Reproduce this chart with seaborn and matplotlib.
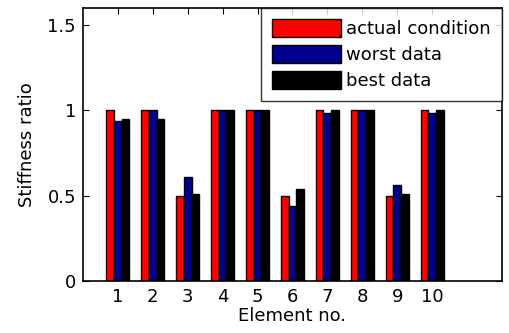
import matplotlib
matplotlib.use("Agg")
import matplotlib.pyplot as plt
import seaborn as sns
import pandas as pd

elements = [1, 2, 3, 4, 5, 6, 7, 8, 9, 10]
actual_condition = [1.0, 1.0, 0.5, 1.0, 1.0, 0.5, 1.0, 1.0, 0.5, 1.0]
worst_data = [0.94, 1.0, 0.61, 1.0, 1.0, 0.44, 0.985, 1.0, 0.56, 0.985]
best_data = [0.95, 0.95, 0.51, 1.0, 1.0, 0.54, 1.0, 1.0, 0.51, 1.0]
series_names = ["actual condition", "worst data", "best data"]
yticks = [0, 0.5, 1, 1.5]
ytick_labels = ["0", "0.5", "1", "1.5"]

rows = []
for name, vals in zip(series_names, [actual_condition, worst_data, best_data]):
    for e, v in zip(elements, vals):
        rows.append({"Element": e, "value": v, "series": name})
df = pd.DataFrame(rows)

sns.set_style("white")
plt.rcParams["font.family"] = ["DejaVu Sans"]
plt.rcParams["text.color"] = "black"
plt.rcParams["axes.labelcolor"] = "black"
plt.rcParams["xtick.color"] = "black"
plt.rcParams["ytick.color"] = "black"
FS = 13

fig = plt.figure(figsize=(5.09, 3.33), dpi=100)
ax = fig.add_axes([0.163, 0.156, 0.823, 0.820])

palette = {"actual condition": "#ff0000", "worst data": "#00008f", "best data": "#000000"}
sns.barplot(data=df, x="Element", y="value", hue="series", hue_order=series_names,
            palette=palette, native_scale=True, width=0.66, saturation=1,
            edgecolor="black", linewidth=1.0, ax=ax, errorbar=None)

ax.set_xlim(0, 12)
ax.set_ylim(0, 1.6)
ax.set_xticks(elements)
ax.set_xticklabels([str(e) for e in elements], fontsize=FS)
ax.set_yticks(yticks)
ax.set_yticklabels(ytick_labels, fontsize=FS)
ax.set_xlabel("Element no.", fontsize=FS, labelpad=1)
ax.set_ylabel("Stiffness ratio", fontsize=FS, labelpad=8)
ax.tick_params(direction="in", top=True, right=True, length=4, width=0.8, pad=5,
               bottom=True, left=True, colors="black")
for s in ax.spines.values():
    s.set_visible(True)
    s.set_color("black")
    s.set_linewidth(1.2)

leg = ax.legend(loc="upper right", borderaxespad=0, fontsize=FS, frameon=True,
                fancybox=False, handlelength=3.8, handleheight=1.17,
                labelspacing=0.36, handletextpad=0.3, borderpad=0.62)
leg.get_frame().set_edgecolor("black")
leg.get_frame().set_linewidth(1.0)
for t in leg.get_texts():
    t.set_color("black")

fig.savefig("out.png", dpi=100)
